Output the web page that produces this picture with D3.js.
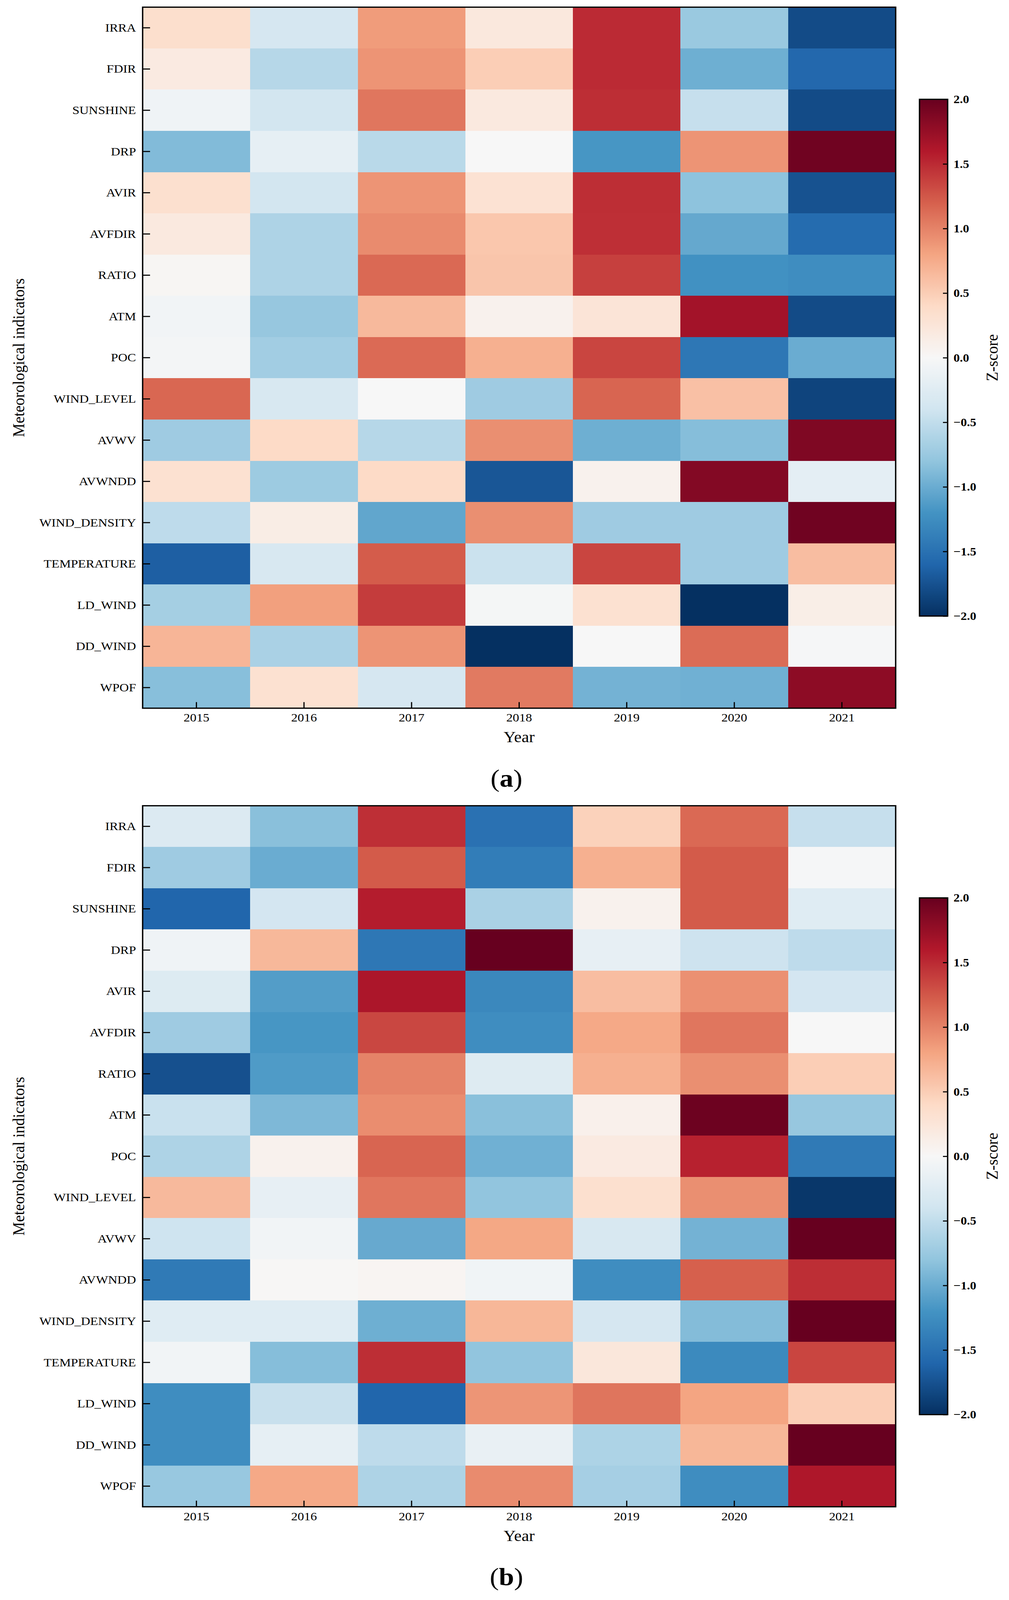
<!DOCTYPE html>
<html>
<head>
<meta charset="utf-8">
<script src="https://cdn.jsdelivr.net/npm/d3@7"></script>
<style>
html,body{margin:0;padding:0;background:#fff;overflow:hidden;width:100%;height:100%;}
svg{display:block;}
text{font-family:"Liberation Serif","Times New Roman",serif;fill:#000;}
</style>
</head>
<body>
<svg id="fig"></svg>
<script>
const years = ["2015","2016","2017","2018","2019","2020","2021"];
const indicators = ["IRRA","FDIR","SUNSHINE","DRP","AVIR","AVFDIR","RATIO","ATM","POC","WIND_LEVEL","AVWV","AVWNDD","WIND_DENSITY","TEMPERATURE","LD_WIND","DD_WIND","WPOF"];

// Panel (a) z-scores, one row per indicator, columns 2015..2021
const valuesA = [
  [ 0.35,-0.35, 0.85, 0.22, 1.50,-0.75,-1.80],
  [ 0.18,-0.57, 0.90, 0.50, 1.50,-0.98,-1.58],
  [-0.08,-0.38, 1.07, 0.20, 1.48,-0.47,-1.80],
  [-0.88,-0.18,-0.55, 0.00,-1.18, 0.90, 1.95],
  [ 0.33,-0.38, 0.90, 0.30, 1.48,-0.82,-1.75],
  [ 0.20,-0.62, 0.95, 0.55, 1.47,-1.03,-1.55],
  [ 0.03,-0.62, 1.15, 0.56, 1.38,-1.22,-1.25],
  [-0.06,-0.77, 0.65, 0.08, 0.27, 1.68,-1.80],
  [-0.04,-0.70, 1.14, 0.72, 1.35,-1.45,-1.00],
  [ 1.16,-0.33, 0.00,-0.72, 1.17, 0.60,-1.85],
  [-0.72, 0.40,-0.57, 0.93,-0.98,-0.86, 1.87],
  [ 0.32,-0.73, 0.40,-1.72, 0.08, 1.85,-0.20],
  [-0.52, 0.15,-1.05, 0.93,-0.72,-0.72, 1.95],
  [-1.65,-0.33, 1.22,-0.44, 1.35,-0.72, 0.62],
  [-0.68, 0.83, 1.40,-0.03, 0.32,-2.00, 0.13],
  [ 0.68,-0.65, 0.90,-2.00, 0.00, 1.13,-0.02],
  [-0.85, 0.32,-0.35, 1.05,-0.95,-0.97, 1.80]
];

// Panel (b) z-scores
const valuesB = [
  [-0.28,-0.84, 1.47,-1.50, 0.47, 1.15,-0.47],
  [-0.72,-1.00, 1.23,-1.40, 0.72, 1.23,-0.02],
  [-1.60,-0.37, 1.58,-0.65, 0.08, 1.23,-0.25],
  [-0.08, 0.66,-1.45, 2.00,-0.17,-0.42,-0.52],
  [-0.27,-1.12, 1.63,-1.30, 0.62, 0.92,-0.37],
  [-0.72,-1.18, 1.34,-1.25, 0.77, 1.07, 0.00],
  [-1.76,-1.14, 1.00,-0.26, 0.72, 0.93, 0.50],
  [-0.45,-0.90, 0.94,-0.84, 0.10, 1.97,-0.77],
  [-0.62, 0.08, 1.17,-0.97, 0.18, 1.55,-1.42],
  [ 0.65,-0.17, 1.07,-0.80, 0.33, 0.93,-1.95],
  [-0.41,-0.06,-1.02, 0.78,-0.33,-0.95, 2.00],
  [-1.42, 0.02, 0.04,-0.07,-1.25, 1.20, 1.48],
  [-0.25,-0.25,-0.98, 0.67,-0.35,-0.87, 2.00],
  [-0.06,-0.86, 1.48,-0.80, 0.23,-1.28, 1.35],
  [-1.25,-0.46,-1.60, 0.89, 1.08, 0.80, 0.50],
  [-1.25,-0.18,-0.52,-0.15,-0.63, 0.67, 2.00],
  [-0.76, 0.77,-0.62, 0.95,-0.67,-1.25, 1.62]
];

const colorbarTicks = [-2.0,-1.5,-1.0,-0.5,0.0,0.5,1.0,1.5,2.0];
const panelLabels = ["a","b"];
const xTitle = "Year";
const yTitle = "Meteorological indicators";
const cbTitle = "Z-score";

// RdBu_r colormap (linear between ColorBrewer anchors, as matplotlib)
const rdbuAnchors = ["#053061","#2166ac","#4393c3","#92c5de","#d1e5f0","#f7f7f7","#fddbc7","#f4a582","#d6604d","#b2182b","#67001f"];
const color = d3.scaleLinear()
  .domain(d3.range(11).map(i => -2 + i * 0.4))
  .range(rdbuAnchors)
  .interpolate(d3.interpolateRgb)
  .clamp(true);

// Figure is laid out in 2582x4462 units and scaled to fill the actual viewport
const W = 2582, H = 4462;
const vw = window.innerWidth || W, vh = window.innerHeight || H;
const svg = d3.select("#fig")
  .attr("width", vw).attr("height", vh)
  .attr("viewBox", `0 0 ${W} ${H}`)
  .attr("preserveAspectRatio", "none");
svg.append("rect").attr("width", W).attr("height", H).attr("fill", "#fff");

const plotX0 = 365, plotX1 = 2292, plotH = 1955;
const panelTops = [20, 2247];
const cbX0 = 2353, cbW = 72, cbTopOff = 257, cbBotOff = 1698;
const fontTick = 33, fontTitle = 43;

const defs = svg.append("defs");
const grad = defs.append("linearGradient").attr("id", "cbgrad")
  .attr("x1", 0).attr("y1", 1).attr("x2", 0).attr("y2", 0);
d3.range(0, 101).forEach(i => {
  const v = -2 + 4 * i / 100;
  grad.append("stop").attr("offset", i + "%").attr("stop-color", color(v));
});

function drawPanel(values, top, label) {
  const g = svg.append("g");
  const x = d3.scaleBand().domain(years).range([plotX0, plotX1]).padding(0);
  const y = d3.scaleBand().domain(indicators).range([top, top + plotH]).padding(0);

  const cells = [];
  indicators.forEach((ind, i) => years.forEach((yr, j) => cells.push({ind, yr, v: values[i][j]})));
  g.append("g").selectAll("rect").data(cells).join("rect")
    .attr("x", d => x(d.yr))
    .attr("y", d => y(d.ind))
    .attr("width", x.bandwidth() + 0.5)
    .attr("height", y.bandwidth() + 0.5)
    .attr("fill", d => color(d.v))
    .attr("shape-rendering", "crispEdges");

  const yAxis = d3.axisLeft(y).tickSizeInner(-19).tickSizeOuter(0).tickPadding(17);
  const ya = g.append("g").attr("transform", `translate(${plotX0},0)`).call(yAxis);
  ya.select(".domain").remove();
  ya.selectAll("line").attr("stroke", "#000").attr("stroke-width", 3);
  ya.selectAll("text").attr("font-size", fontTick).attr("font-family", "Liberation Serif, serif").attr("fill", "#000");

  const xAxis = d3.axisBottom(x).tickSizeInner(-17).tickSizeOuter(0).tickPadding(14);
  const xa = g.append("g").attr("transform", `translate(0,${top + plotH})`).call(xAxis);
  xa.select(".domain").remove();
  xa.selectAll("line").attr("stroke", "#000").attr("stroke-width", 3);
  xa.selectAll("text").attr("font-size", fontTick).attr("font-family", "Liberation Serif, serif").attr("fill", "#000");

  g.append("rect").attr("x", plotX0).attr("y", top).attr("width", plotX1 - plotX0).attr("height", plotH)
    .attr("fill", "none").attr("stroke", "#000").attr("stroke-width", 3.5);

  g.append("text").attr("x", (plotX0 + plotX1) / 2).attr("y", top + plotH + 95)
    .attr("text-anchor", "middle").attr("font-size", fontTitle).text(xTitle);
  g.append("text").attr("transform", `translate(62,${top + plotH / 2}) rotate(-90)`)
    .attr("text-anchor", "middle").attr("font-size", fontTitle).text(yTitle);

  const cbTop = top + cbTopOff, cbBot = top + cbBotOff;
  const cy = d3.scaleLinear().domain([-2, 2]).range([cbBot, cbTop]);
  g.append("rect").attr("x", cbX0).attr("y", cbTop).attr("width", cbW).attr("height", cbBot - cbTop)
    .attr("fill", "url(#cbgrad)");
  const cAxis = d3.axisRight(cy).tickValues(colorbarTicks).tickSizeInner(-12).tickSizeOuter(0)
    .tickPadding(15).tickFormat(d3.format(".1f"));
  const ca = g.append("g").attr("transform", `translate(${cbX0 + cbW},0)`).call(cAxis);
  ca.select(".domain").remove();
  ca.selectAll("line").attr("stroke", "#000").attr("stroke-width", 3);
  ca.selectAll("text").attr("font-size", 32).attr("font-weight", "bold")
    .attr("font-family", "Liberation Serif, serif").attr("fill", "#000");
  g.append("rect").attr("x", cbX0).attr("y", cbTop).attr("width", cbW).attr("height", cbBot - cbTop)
    .attr("fill", "none").attr("stroke", "#000").attr("stroke-width", 3.5);
  g.append("text").attr("transform", `translate(2553,${(cbTop + cbBot) / 2}) rotate(-90)`)
    .attr("text-anchor", "middle").attr("font-size", fontTitle).text(cbTitle);

  const pl = g.append("text").attr("x", 1296).attr("y", top + 2174)
    .attr("text-anchor", "middle").attr("font-size", 70);
  pl.append("tspan").text("(");
  pl.append("tspan").attr("font-weight", "bold").text(label);
  pl.append("tspan").text(")");
}

drawPanel(valuesA, panelTops[0], panelLabels[0]);
drawPanel(valuesB, panelTops[1], panelLabels[1]);
</script>
</body>
</html>
